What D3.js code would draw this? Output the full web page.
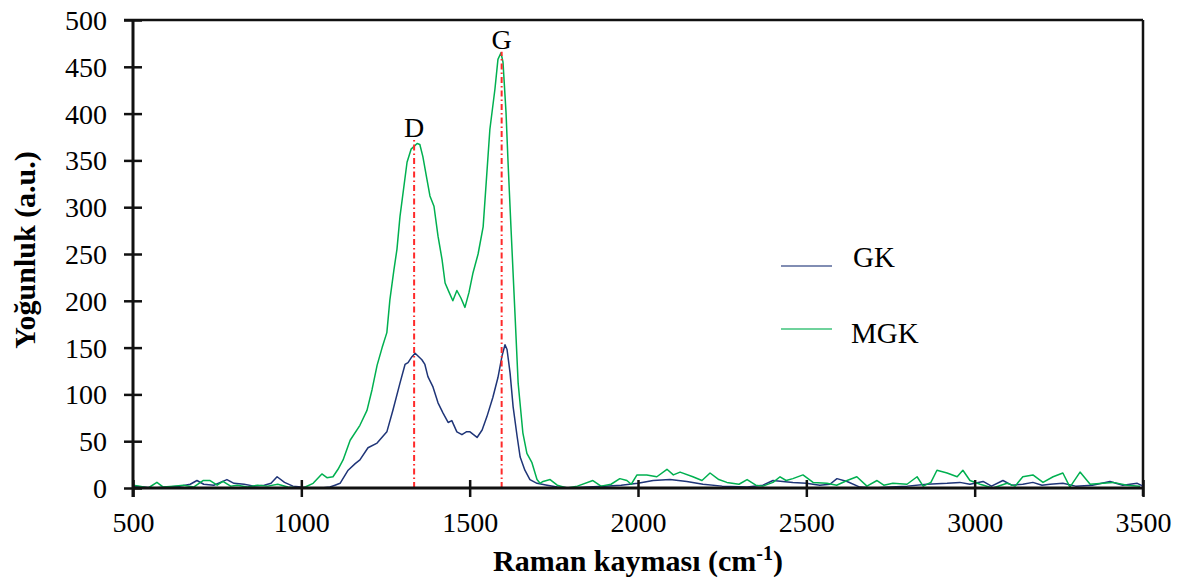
<!DOCTYPE html>
<html><head><meta charset="utf-8">
<script src="https://cdn.jsdelivr.net/npm/d3@7"></script>
<style>body{margin:0;background:#fff}svg{display:block}
text{font-family:"Liberation Serif",serif}
.ttl{font-family:"Liberation Serif";font-weight:700}</style>
</head><body>
<script>
const gkShift = [500,530,560,600,640,670,690,710,740,779,800,830,860,890,910,928,950,975,1000,1030,1060,1085,1100,1115,1139,1160,1174,1198,1225,1254,1272,1293,1308,1317,1328,1338,1358,1367,1376,1391,1406,1421,1436,1447,1462,1477,1490,1501,1522,1537,1551,1569,1584,1596,1605,1611,1620,1629,1641,1650,1664,1679,1700,1730,1760,1800,1850,1900,1950,2000,2045,2095,2145,2193,2250,2324,2371,2401,2430,2460,2500,2540,2570,2591,2621,2659,2700,2750,2800,2858,2918,2956,2986,3025,3050,3084,3110,3143,3173,3200,3224,3262,3300,3350,3402,3440,3483,3500];
const gkIntensity = [2,1,0,1,2,4,8,4,3,9,5,4,2,3,5,12,6,2,1,0,0,1,3,5,19,26,30,43,48,60,83,112,132,134,140,144,137,132,119,108,91,80,70,72,60,57,60,60,54,62,76,97,118,141,153,148,123,87,55,33,19,9,5,3,1,0,1,2,3,5,8,9,7,4,2,1,3,8,7,6,5,3,4,10,7,1,0,1,2,4,5,6,4,7,2,8,3,4,6,3,4,5,2,3,7,3,5,2];
const mgkShift = [500,520,545,571,590,620,650,680,708,729,750,767,790,810,840,870,900,930,960,990,1005,1035,1061,1076,1094,1109,1124,1145,1174,1195,1210,1225,1240,1254,1263,1275,1284,1293,1314,1326,1344,1352,1361,1373,1382,1394,1406,1418,1427,1439,1450,1462,1474,1486,1498,1510,1525,1540,1560,1575,1584,1593,1599,1608,1614,1623,1635,1644,1658,1670,1685,1700,1709,1718,1739,1760,1789,1820,1866,1890,1920,1946,1967,1980,1997,2026,2056,2086,2105,2125,2163,2190,2214,2240,2264,2300,2324,2350,2371,2401,2422,2440,2460,2490,2520,2561,2590,2621,2650,2680,2710,2730,2757,2799,2829,2847,2870,2888,2918,2948,2965,2986,3016,3054,3096,3120,3143,3173,3203,3233,3262,3283,3313,3343,3381,3411,3453,3491];
const mgkIntensity = [3,2,0,6,1,2,3,1,8,8,3,7,2,3,1,3,2,4,1,0,0,5,15,11,12,20,30,51,67,83,105,131,150,166,201,233,255,290,348,362,368,367,354,330,312,301,269,244,219,209,200,211,203,193,209,230,250,279,383,426,458,465,455,401,348,276,183,112,59,37,27,9,5,7,9,3,0,2,8,2,4,10,8,4,14,14,12,20,14,17,12,8,16,9,6,4,9,3,2,6,12,8,10,14,6,5,3,8,12,2,8,3,5,4,12,2,6,19,16,12,19,8,4,0,5,2,12,14,6,12,16,1,17,4,5,6,3,2];
const xTicks = [500,1000,1500,2000,2500,3000,3500];
const yTicks = [0,50,100,150,200,250,300,350,400,450,500];
const seriesNames = ["GK","MGK"];
const peakLabels = ["D","G"];
const peakShift = [1335,1595];
const peakTop = [372,466];

const W=1183,H=581;
const m={l:133,r:1143,t:20,b:488};
const svg=d3.select("body").append("svg").attr("width",W).attr("height",H);
const x=d3.scaleLinear().domain([500,3500]).range([m.l,m.r]);
const y=d3.scaleLinear().domain([0,500]).range([m.b,m.t]);
const colors={GK:"#1f3578",MGK:"#00b050"};

svg.append("line").attr("x1",m.l-9).attr("x2",m.r).attr("y1",m.t).attr("y2",m.t).attr("stroke","#111").attr("stroke-width",2.5);
svg.append("line").attr("x1",m.r).attr("x2",m.r).attr("y1",m.t).attr("y2",m.b+8).attr("stroke","#111").attr("stroke-width",2.5);

const line=d3.line().x(d=>x(d[0])).y(d=>y(d[1]));
const gkData=gkShift.map((v,i)=>[v,gkIntensity[i]]);
const mgkData=mgkShift.map((v,i)=>[v,mgkIntensity[i]]);
svg.append("path").datum(gkData).attr("d",line).attr("fill","none").attr("stroke",colors.GK).attr("stroke-width",1.5).attr("stroke-linejoin","round");
svg.append("path").datum(mgkData).attr("d",line).attr("fill","none").attr("stroke",colors.MGK).attr("stroke-width",1.5).attr("stroke-linejoin","round");

peakShift.forEach((p,i)=>{
  svg.append("line").attr("x1",x(p)).attr("x2",x(p)).attr("y1",y(0)).attr("y2",y(peakTop[i]))
    .attr("stroke","#ff2a2a").attr("stroke-width",2).attr("stroke-dasharray","6,3,1.5,3");
  svg.append("text").attr("x",x(p)).attr("y",y(peakTop[i])-3).attr("text-anchor","middle")
    .attr("font-size",28).attr("fill","#000").text(peakLabels[i]);
});

const xAxis=svg.append("g").attr("transform",`translate(0,${m.b})`)
  .call(d3.axisBottom(x).tickValues(xTicks).tickSize(0).tickPadding(0).tickFormat(d3.format("d")));
xAxis.attr("font-family",null);
xAxis.select(".domain").attr("stroke","#111").attr("stroke-width",3).attr("d",`M${m.l},0H${m.r}`);
xAxis.selectAll(".tick line").attr("y1",-8).attr("y2",9).attr("stroke","#111").attr("stroke-width",2.5);
xAxis.selectAll(".tick text").attr("y",44).attr("dy",0).attr("font-size",28).attr("fill","#000");

const yAxis=svg.append("g").attr("transform",`translate(${m.l},0)`)
  .call(d3.axisLeft(y).tickValues(yTicks).tickSize(0).tickPadding(0));
yAxis.attr("font-family",null);
yAxis.select(".domain").attr("stroke","#111").attr("stroke-width",3).attr("d",`M0,${m.b+9}V${m.t}`);
yAxis.selectAll(".tick line").attr("x1",-9).attr("x2",9).attr("stroke","#111").attr("stroke-width",2.5);
yAxis.selectAll(".tick text").attr("x",-26).attr("dy","0.34em").attr("font-size",28).attr("fill","#000");

const xt=svg.append("text").attr("class","ttl").attr("x",638).attr("y",571).attr("text-anchor","middle")
  .attr("font-size",30).attr("fill","#000");
xt.append("tspan").text("Raman kayması (cm");
xt.append("tspan").attr("dy",-11).attr("font-size",20).text("-1");
xt.append("tspan").attr("dy",11).text(")");
svg.append("text").attr("class","ttl").attr("transform","translate(35,250) rotate(-90)").attr("text-anchor","middle")
  .attr("font-size",30).attr("fill","#000").text("Yoğunluk (a.u.)");

const legY=[266,329], legTY=[267,343];
seriesNames.forEach((n,i)=>{
  svg.append("line").attr("x1",781).attr("x2",832).attr("y1",legY[i]).attr("y2",legY[i])
    .attr("stroke",colors[n]).attr("stroke-width",1.5).attr("opacity",0.75);
  svg.append("text").attr("x",853 - (i?2:0)).attr("y",legTY[i]).attr("font-size",29).attr("fill","#000").text(n);
});
</script>
</body></html>
